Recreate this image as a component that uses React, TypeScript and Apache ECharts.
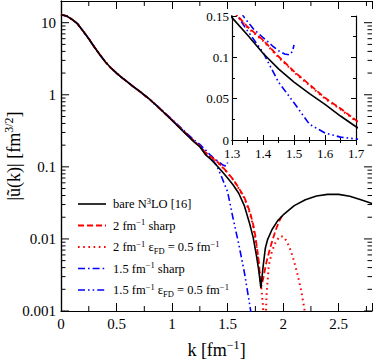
import React, { useEffect, useRef } from 'react';
import * as echarts from 'echarts';

// ---------- data ----------
const kLow = [0, 0.05, 0.1, 0.15, 0.2, 0.25, 0.3, 0.35, 0.4, 0.45, 0.5, 0.55, 0.6, 0.65, 0.7, 0.8];
const uLow = [12.9, 12.4, 11.1, 9.6, 7.6, 6.0, 4.6, 3.6, 2.85, 2.35, 2.0, 1.72, 1.5, 1.3, 1.14, 0.86];

const kBare = [...kLow, 0.9, 1.0, 1.1, 1.2, 1.25, 1.3, 1.35, 1.4, 1.45, 1.5, 1.55, 1.6, 1.65, 1.7, 1.73, 1.76, 1.78, 1.8, 1.82, 1.84, 1.86, 1.9, 1.95, 2.0, 2.1, 2.2, 2.3, 2.4, 2.5, 2.6, 2.7, 2.8];
const uBare = [...uLow, 0.62, 0.44, 0.31, 0.22, 0.19, 0.148, 0.127, 0.105, 0.086, 0.07, 0.056, 0.043, 0.029, 0.016, 0.0105, 0.0058, 0.0037, 0.0021, 0.0042, 0.0075, 0.0098, 0.0135, 0.0178, 0.0215, 0.029, 0.035, 0.0395, 0.0415, 0.0415, 0.039, 0.035, 0.031];

const kSharp2 = [...kLow, 0.9, 1.0, 1.1, 1.2, 1.25, 1.3, 1.35, 1.4, 1.45, 1.5, 1.55, 1.6, 1.65, 1.7, 1.73, 1.75, 1.78, 1.8, 1.82, 1.85, 1.88, 1.91, 1.94, 1.97, 2.0];
const uSharp2 = [...uLow, 0.62, 0.445, 0.315, 0.225, 0.193, 0.158, 0.137, 0.121, 0.101, 0.083, 0.067, 0.051, 0.038, 0.024, 0.016, 0.011, 0.005, 0.0021, 0.0028, 0.0048, 0.0072, 0.0103, 0.0142, 0.0183, 0.0225];

const kFd2 = [...kLow, 0.9, 1.0, 1.1, 1.2, 1.25, 1.3, 1.35, 1.4, 1.45, 1.5, 1.55, 1.6, 1.65, 1.7, 1.73, 1.76, 1.78, 1.8, 1.82, 1.833, 1.85, 1.87, 1.9, 1.93, 1.96, 1.98, 2.01, 2.04, 2.07, 2.1, 2.13, 2.16, 2.19, 2.22];
const uFd2 = [...uLow, 0.62, 0.445, 0.315, 0.224, 0.192, 0.157, 0.136, 0.12, 0.1, 0.082, 0.066, 0.05, 0.037, 0.023, 0.0148, 0.0078, 0.0045, 0.0024, 0.0011, 0.0002, 0.0016, 0.0042, 0.0068, 0.0088, 0.0104, 0.011, 0.0105, 0.0088, 0.0068, 0.0048, 0.0032, 0.002, 0.0011, 0.0005];

const kSharp15 = [...kLow, 0.9, 1.0, 1.1, 1.2, 1.25, 1.3, 1.34, 1.37, 1.4, 1.43, 1.45, 1.47, 1.485, 1.495, 1.5];
const uSharp15 = [...uLow, 0.63, 0.455, 0.325, 0.235, 0.205, 0.172, 0.148, 0.134, 0.124, 0.114, 0.108, 0.104, 0.103, 0.107, 0.115];

const kFd15 = [...kLow, 0.9, 1.0, 1.1, 1.2, 1.25, 1.3, 1.35, 1.4, 1.45, 1.5, 1.55, 1.6, 1.65, 1.7, 1.73];
const uFd15 = [...uLow, 0.625, 0.45, 0.32, 0.228, 0.195, 0.16, 0.132, 0.106, 0.07, 0.045, 0.019, 0.0085, 0.0035, 0.0012, 0.0006];

const seriesNames = ['bare', 'sharp2', 'fd2', 'sharp15', 'fd15'];
const legendLabels = [
  'bare N{sup|3}LO [16]',
  '2 fm{sup|\u22121} sharp',
  '2 fm{sup|\u22121} \u03b5{sub|FD} = 0.5 fm{sup|\u22121}',
  '1.5 fm{sup|\u22121} sharp',
  '1.5 fm{sup|\u22121} \u03b5{sub|FD} = 0.5 fm{sup|\u22121}',
];

const xMainTicks = [0, 0.5, 1, 1.5, 2, 2.5];
const xMainTickLabels = ['0', '0.5', '1', '1.5', '2', '2.5'];
const xMainMinor = [0.25, 0.75, 1.25, 1.75, 2.25, 2.75];
const yMainMajor = [0.001, 0.01, 0.1, 1, 10];
const yMainTickLabels = ['0.001', '0.01', '0.1', '1', '10'];
const yMainMinor: number[] = [];
for (let e = -3; e <= 1; e++) {
  for (let m = 2; m <= 9; m++) {
    const v = m * Math.pow(10, e);
    if (v < 20) yMainMinor.push(v);
  }
}

const X_MIN = 0, X_MAX = 2.8, Y_MIN = 0.001, Y_MAX = 20;

const FONT = "'Liberation Serif', 'Times New Roman', serif";

const pairs = (k: number[], u: number[]) => k.map((x, i) => [x, u[i]]);

const styles = [
  { color: '#000000', type: 'solid' as any, dash: null as any, width: 1.6 },
  { color: '#ff0000', type: [6, 3], dash: [6, 3], width: 1.8 },
  { color: '#ff0000', type: [1.6, 3.6], dash: [1.6, 3.6], width: 2 },
  { color: '#0000ff', type: [7, 3, 1.6, 3], dash: [7, 3, 1.6, 3], width: 1.6 },
  { color: '#0000ff', type: [7, 3, 1.6, 3, 1.6, 3], dash: [7, 3, 1.6, 3, 1.6, 3], width: 1.6 },
];
const datasets = [
  pairs(kBare, uBare),
  pairs(kSharp2, uSharp2),
  pairs(kFd2, uFd2),
  pairs(kSharp15, uSharp15),
  pairs(kFd15, uFd15),
];

export default function App() {
  const ref = useRef<HTMLDivElement>(null);
  useEffect(() => {
    if (!ref.current) return;
    const chart = echarts.init(ref.current, undefined, { renderer: 'svg' });

    const axisLine = { show: true, lineStyle: { color: '#000', width: 1.2 } };
    const mainTick = { show: true, inside: true, length: 8, lineStyle: { color: '#000', width: 1 } };
    const insetTick = { show: true, inside: true, length: 5, lineStyle: { color: '#000', width: 1 } };
    const insetMinor = { show: true, splitNumber: 2, length: 3, lineStyle: { color: '#000', width: 1 } };

    const yLabel = (v: number) => {
      const e = Math.log10(v);
      const r = Math.round(e);
      if (Math.abs(e - r) > 1e-6) return '';
      return yMainTickLabels[r + 3] ?? '';
    };
    const xLabel = (v: number) => {
      const i = xMainTicks.findIndex((t) => Math.abs(t - v) < 1e-6);
      return i >= 0 ? xMainTickLabels[i] : '';
    };

    const mkSeries = (xi: number, yi: number) =>
      datasets.map((d, i) => ({
        name: seriesNames[i],
        type: 'line',
        xAxisIndex: xi,
        yAxisIndex: yi,
        data: d,
        symbol: 'none',
        showSymbol: false,
        clip: true,
        lineStyle: { color: styles[i].color, type: styles[i].type, width: styles[i].width },
        itemStyle: { color: styles[i].color },
        z: 10 - i,
      }));

    const tickStyle = { stroke: '#000', lineWidth: 1 };

    const legendTop = 204;
    const legendStep = 21.5;
    const legendGraphics: any[] = [];
    seriesNames.forEach((n, i) => {
      const y = legendTop + i * legendStep;
      legendGraphics.push({
        type: 'line',
        shape: { x1: 78, y1: y, x2: 106, y2: y },
        style: { stroke: styles[i].color, lineWidth: styles[i].width, lineDash: styles[i].dash },
        silent: true,
      });
      legendGraphics.push({
        type: 'text',
        x: 113,
        y,
        silent: true,
        style: {
          text: legendLabels[i],
          fontFamily: FONT,
          fontSize: 12.5,
          fill: '#000',
          verticalAlign: 'middle',
          align: 'left',
          lineHeight: 16,
          rich: {
            sup: { fontFamily: FONT, fontSize: 8.5, lineHeight: 9, verticalAlign: 'top', fill: '#000' },
            sub: { fontFamily: FONT, fontSize: 8.5, lineHeight: 9, verticalAlign: 'bottom', fill: '#000' },
          },
        },
      });
    });

    const yTickSeries = (values: number[], len: number) => ({
      type: 'custom',
      xAxisIndex: 0,
      yAxisIndex: 0,
      silent: true,
      clip: false,
      data: values.map((v) => [X_MIN, v]),
      encode: { x: 0, y: 1 },
      renderItem: (params: any, api: any) => {
        const v = api.value(1);
        const a = api.coord([X_MIN, v]);
        const b = api.coord([X_MAX, v]);
        return {
          type: 'group',
          children: [
            { type: 'line', shape: { x1: a[0], y1: a[1], x2: a[0] + len, y2: a[1] }, style: tickStyle },
            { type: 'line', shape: { x1: b[0] - len, y1: b[1], x2: b[0], y2: b[1] }, style: tickStyle },
          ],
        };
      },
      z: 20,
    });

    const option: any = {
      animation: false,
      backgroundColor: '#fff',
      textStyle: { fontFamily: FONT, color: '#000' },
      grid: [
        { left: 61, top: 1, right: 2, bottom: 48, containLabel: false, outerBoundsMode: 'none' },
        { left: 232, top: 16, width: 124, height: 124, containLabel: false, outerBoundsMode: 'none' },
      ],
      graphic: legendGraphics,
      xAxis: [
        {
          type: 'value', gridIndex: 0, min: X_MIN, max: X_MAX, interval: 0.5,
          axisLine, axisTick: mainTick, splitLine: { show: false },
          axisLabel: { fontFamily: FONT, fontSize: 15, color: '#000', margin: 5, formatter: xLabel },
          name: 'k [fm{sup|\u22121}]',
          nameLocation: 'middle',
          nameGap: 28,
          nameMoveOverlap: false,
          nameTextStyle: {
            fontFamily: FONT, fontSize: 18, color: '#000', lineHeight: 22,
            rich: { sup: { fontFamily: FONT, fontSize: 12, lineHeight: 12, verticalAlign: 'top', color: '#000' } },
          },
        },
        {
          type: 'value', gridIndex: 0, min: X_MIN, max: X_MAX, interval: 0.5, position: 'top',
          axisLine, axisTick: mainTick, splitLine: { show: false }, axisLabel: { show: false },
        },
        {
          type: 'value', gridIndex: 1, min: 1.3, max: 1.7, interval: 0.1,
          axisLine, axisTick: insetTick, minorTick: insetMinor, splitLine: { show: false },
          axisLabel: { fontFamily: FONT, fontSize: 13, lineHeight: 12, color: '#000', margin: 7 },
        },
        {
          type: 'value', gridIndex: 1, min: 1.3, max: 1.7, interval: 0.1, position: 'top',
          axisLine, axisTick: insetTick, minorTick: insetMinor, splitLine: { show: false }, axisLabel: { show: false },
        },
      ],
      yAxis: [
        {
          type: 'log', logBase: 10, gridIndex: 0, min: Y_MIN, max: Y_MAX,
          axisLine, axisTick: { show: false }, splitLine: { show: false },
          axisLabel: { fontFamily: FONT, fontSize: 15, color: '#000', margin: 5, formatter: yLabel },
          name: '|\u0169(k)| [fm{sup|3/2}]',
          nameLocation: 'middle',
          nameRotate: 90,
          nameGap: 36,
          nameMoveOverlap: false,
          nameTextStyle: {
            fontFamily: FONT, fontSize: 18, color: '#000', lineHeight: 22,
            rich: { sup: { fontFamily: FONT, fontSize: 12, lineHeight: 12, verticalAlign: 'top', color: '#000' } },
          },
        },
        {
          type: 'log', logBase: 10, gridIndex: 0, min: Y_MIN, max: Y_MAX, position: 'right',
          axisLine, axisTick: { show: false }, splitLine: { show: false }, axisLabel: { show: false },
        },
        {
          type: 'value', gridIndex: 1, min: 0, max: 0.15, interval: 0.05,
          axisLine, axisTick: insetTick, minorTick: insetMinor, splitLine: { show: false },
          axisLabel: { fontFamily: FONT, fontSize: 13, lineHeight: 12, color: '#000', margin: 3 },
        },
        {
          type: 'value', gridIndex: 1, min: 0, max: 0.15, interval: 0.05, position: 'right',
          axisLine, axisTick: insetTick, minorTick: insetMinor, splitLine: { show: false }, axisLabel: { show: false },
        },
      ],
      series: [
        ...mkSeries(0, 0),
        ...mkSeries(2, 2),
        yTickSeries(yMainMajor, 8),
        yTickSeries(yMainMinor, 4.5),
        {
          type: 'custom',
          xAxisIndex: 0,
          yAxisIndex: 0,
          silent: true,
          clip: false,
          data: xMainMinor.map((k) => [k, 1]),
          encode: { x: 0, y: 1 },
          renderItem: (params: any, api: any) => {
            const k = api.value(0);
            const a = api.coord([k, Y_MIN]);
            const b = api.coord([k, Y_MAX]);
            return {
              type: 'group',
              children: [
                { type: 'line', shape: { x1: a[0], y1: a[1], x2: a[0], y2: a[1] - 5 }, style: tickStyle },
                { type: 'line', shape: { x1: b[0], y1: b[1], x2: b[0], y2: b[1] + 5 }, style: tickStyle },
              ],
            };
          },
          z: 20,
        },
      ],
    };

    chart.setOption(option);
    return () => chart.dispose();
  }, []);

  return <div ref={ref} style={{ width: 374, height: 359, position: 'absolute', left: 0, top: 0 }} />;
}
